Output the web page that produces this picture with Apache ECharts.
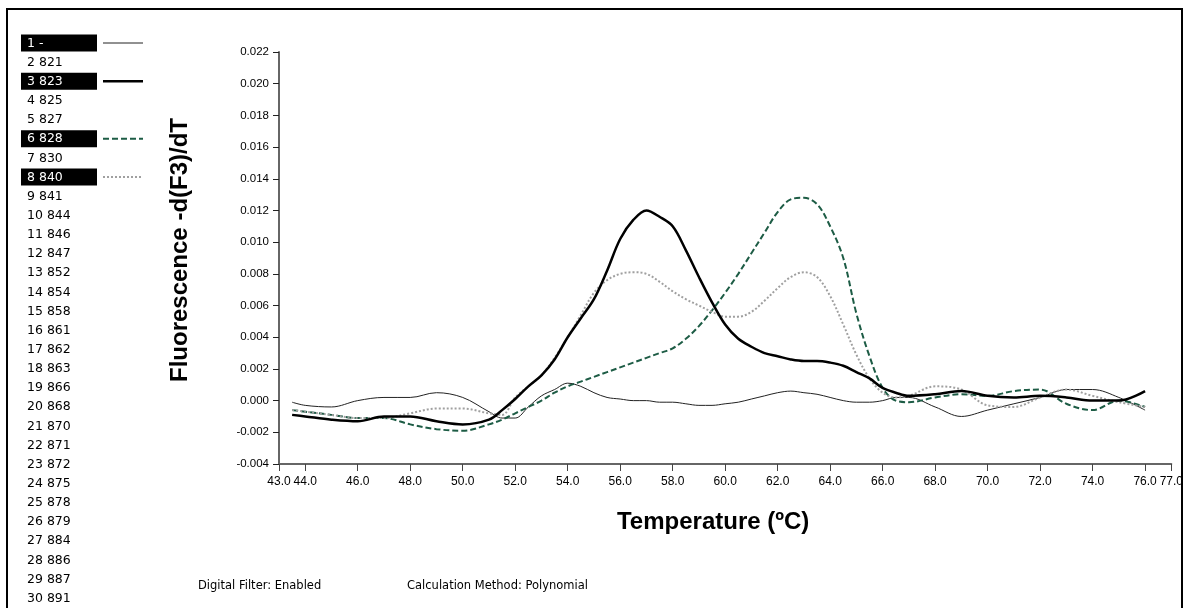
<!DOCTYPE html>
<html><head><meta charset="utf-8">
<script src="https://cdn.jsdelivr.net/npm/echarts@6/dist/echarts.min.js"></script>
<style>html,body{margin:0;padding:0;background:#fff}#c{width:1186px;height:608px}</style>
</head><body><div id="c"></div>
<script>
const temps = [43.5,44,45,46,47,48,49,50,51,51.5,52,52.5,53,53.5,54,54.5,55,55.5,56,56.5,57,57.5,58,58.5,59,59.5,60,60.5,61,61.5,62,62.5,63,63.5,64,64.5,65,65.5,66,66.5,67,68,69,70,71,72,73,74,75,76];
const sample1 = [-0.0001,-0.0003,-0.0004,0.0,0.0002,0.0002,0.0005,0.0002,-0.0007,-0.0011,-0.0011,-0.0004,0.0003,0.0007,0.0011,0.0009,0.0005,0.0002,0.0001,0.0,0.0,-0.0001,-0.0001,-0.0002,-0.0003,-0.0003,-0.0002,-0.0001,0.0001,0.0003,0.0005,0.0006,0.0005,0.0004,0.0002,0.0,-0.0001,-0.0001,0.0,0.0002,0.0002,-0.0004,-0.001,-0.0006,-0.0002,0.0002,0.0007,0.0007,0.0002,-0.0006];
const sample3 = [-0.0009,-0.001,-0.0012,-0.0013,-0.001,-0.001,-0.0013,-0.0015,-0.0012,-0.0006,0.0001,0.0009,0.0016,0.0026,0.004,0.0052,0.0064,0.0082,0.0102,0.0114,0.012,0.0116,0.011,0.0095,0.0078,0.0062,0.0048,0.0039,0.0034,0.003,0.0028,0.0026,0.0025,0.0025,0.0024,0.0022,0.0018,0.0014,0.0008,0.0005,0.0003,0.0004,0.0006,0.0003,0.0002,0.0003,0.0002,0.0,0.0,0.0006];
const sample6 = [-0.0006,-0.0007,-0.0009,-0.0011,-0.0011,-0.0015,-0.0018,-0.0019,-0.0015,-0.0012,-0.0008,-0.0004,0.0,0.0005,0.0009,0.0012,0.0015,0.0018,0.0021,0.0024,0.0027,0.003,0.0033,0.0039,0.0047,0.0057,0.0068,0.008,0.0093,0.0106,0.0119,0.0127,0.0128,0.0124,0.011,0.009,0.0055,0.0028,0.0008,0.0,-0.0001,0.0002,0.0004,0.0003,0.0006,0.0007,-0.0002,-0.0006,0.0,-0.0004];
const sample8 = [-0.0006,-0.0007,-0.0009,-0.0011,-0.0011,-0.0008,-0.0005,-0.0005,-0.0008,-0.0009,0.0002,0.0009,0.0016,0.0027,0.004,0.0054,0.0068,0.0076,0.008,0.0081,0.008,0.0075,0.0069,0.0064,0.006,0.0056,0.0053,0.0053,0.0056,0.0063,0.0071,0.0078,0.0081,0.0078,0.0066,0.0048,0.0029,0.0014,0.0005,0.0002,0.0003,0.0009,0.0007,-0.0003,-0.0004,0.0002,0.0007,0.0003,-0.0001,-0.0004];
const xTicks = [43,44,46,48,50,52,54,56,58,60,62,64,66,68,70,72,74,76,77];
const legendLabels = ["1 -","2 821","3 823","4 825","5 827","6 828","7 830","8 840","9 841","10 844","11 846","12 847","13 852","14 854","15 858","16 861","17 862","18 863","19 866","20 868","21 870","22 871","23 872","24 875","25 878","26 879","27 884","28 886","29 887","30 891","31 893"];
const highlighted = [0,2,5,7];

const styles = [
  {color:'#222', width:1, type:'solid'},
  {color:'#000', width:2.5, type:'solid'},
  {color:'#1d5c45', width:2, type:[6,3]},
  {color:'#a0a0a0', width:2, type:[2,2]}
];
const seriesVals = [sample1, sample3, sample6, sample8];
const FONT = 'Liberation Sans, Arial, sans-serif';
const SFONT = 'DejaVu Sans, sans-serif';

const graphic = [
  {type:'polyline', shape:{points:[[7,610],[7,9],[1182,9],[1182,610]]}, style:{stroke:'#000', lineWidth:2, fill:null}, silent:true}
];
legendLabels.forEach((t,i)=>{
  const y = 43 + i*19.14;
  const hl = highlighted.indexOf(i);
  if (hl >= 0) {
    graphic.push({type:'rect', shape:{x:21, y:y-8.5, width:76, height:17}, style:{fill:'#000'}});
    const s = styles[hl];
    graphic.push({type:'line', shape:{x1:103, y1:y, x2:143, y2:y}, style:{stroke:s.color, lineWidth:s.width, lineDash: Array.isArray(s.type)? s.type : null}});
  }
  graphic.push({type:'text', x:27, y:y+0.5, style:{text:t, fill: hl>=0 ? '#fff' : '#000', font:'12.5px '+SFONT, verticalAlign:'middle'}});
});
graphic.push({type:'text', x:198, y:586, style:{text:'Digital Filter: Enabled', fill:'#000', font:'11.5px '+SFONT, verticalAlign:'middle'}});
graphic.push({type:'text', x:407, y:586, style:{text:'Calculation Method: Polynomial', fill:'#000', font:'11.5px '+SFONT, verticalAlign:'middle'}});

const chart = echarts.init(document.getElementById('c'));
chart.setOption({
  animation:false,
  backgroundColor:'#fff',
  grid:{left:279, right:9, top:52, bottom:144},
  xAxis:{
    type:'value', min:43, max:77,
    name:'Temperature (ºC)', nameLocation:'middle', nameGap:46,
    nameTextStyle:{fontFamily:FONT, fontWeight:'bold', fontSize:24, color:'#000', padding:[0,24,0,0]},
    axisLine:{show:true, onZero:false, lineStyle:{color:'#666', width:2}},
    axisTick:{show:true, length:7, lineStyle:{color:'#444'}, customValues:xTicks},
    axisLabel:{fontFamily:FONT, fontSize:12, color:'#000', margin:12, customValues:xTicks, formatter:v=>v.toFixed(1), hideOverlap:false},
    splitLine:{show:false}
  },
  yAxis:{
    type:'value', min:-0.004, max:0.022, interval:0.002,
    name:'Fluorescence -d(F3)/dT', nameLocation:'middle', nameGap:87,
    nameTextStyle:{fontFamily:FONT, fontWeight:'bold', fontSize:24, color:'#000', padding:[0,0,0,16]},
    axisLine:{show:true, lineStyle:{color:'#666', width:2}},
    axisTick:{show:true, length:6, lineStyle:{color:'#222'}},
    axisLabel:{fontFamily:FONT, fontSize:11.5, color:'#000', margin:10, formatter:v=>v.toFixed(3)},
    splitLine:{show:false}
  },
  series: seriesVals.map((vals,k)=>({
    type:'line', name:legendLabels[highlighted[k]], showSymbol:false, smooth:0.35,
    lineStyle:{color:styles[k].color, width:styles[k].width, type:styles[k].type},
    data: temps.map((t,i)=>[t, vals[i]]),
    z: [2,4,3,3][k]
  })),
  graphic: graphic
});
</script>
</body></html>
